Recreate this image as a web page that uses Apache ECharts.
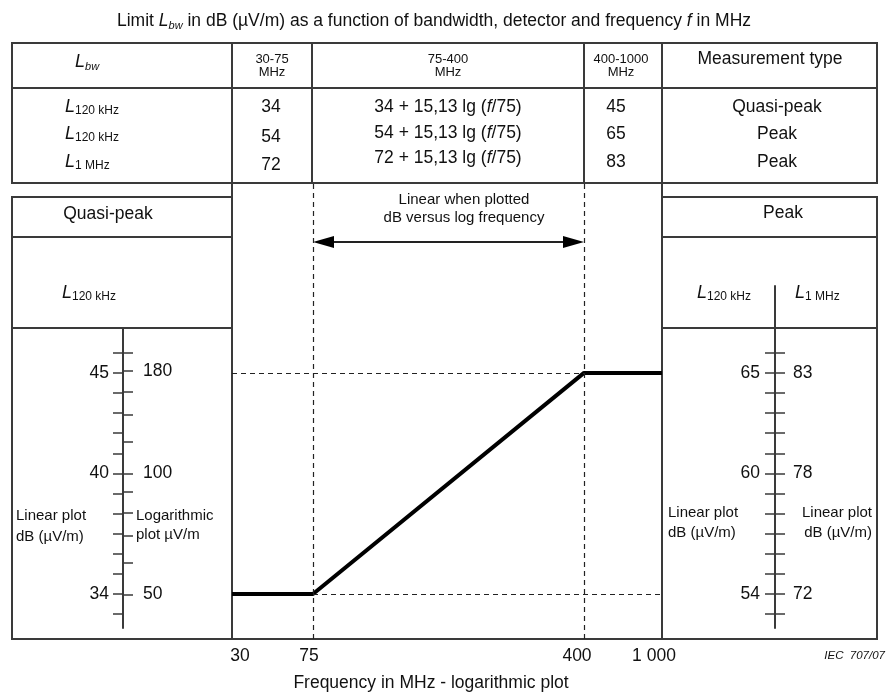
<!DOCTYPE html>
<html>
<head>
<meta charset="utf-8">
<script src="https://cdn.jsdelivr.net/npm/echarts@6/dist/echarts.min.js"></script>
<style>
    html, body { margin: 0; padding: 0; background: #fff; }
    #chart-container { width: 887px; height: 695px; }
</style>
</head>
<body>
<div id="chart-container"></div>
<script>
// limit line (quasi-peak, L120 kHz), dB(uV/m)
var limitFreq = [30, 75, 400, 1000];
var limitLevel = [34, 34, 45, 45];

// frequency axis ticks
var freqTicks = [30, 75, 400, 1000];
var freqTickLabels = ['30', '75', '400', '1 000'];

// table
var bandHeaders = ['30-75\nMHz', '75-400\nMHz', '400-1000\nMHz'];
var rowBandwidth = ['120 kHz', '120 kHz', '1 MHz'];
var lowBandLimit = [34, 54, 72];
var highBandLimit = [45, 65, 83];
var slopeText = '15,13';
var measurementType = ['Quasi-peak', 'Peak', 'Peak'];

// left scale (quasi-peak L120 kHz)
var qpDbTicks = [33, 34, 35, 36, 37, 38, 39, 40, 41, 42, 43, 44, 45, 46];
var qpDbLabels = [34, 40, 45];
var qpUvTicks = [50, 60, 70, 80, 90, 100, 120, 140, 160, 180, 200];
var qpUvLabels = [50, 100, 180];

// right scale (peak L120 kHz and L1 MHz)
var pkDbTicks = [53, 54, 55, 56, 57, 58, 59, 60, 61, 62, 63, 64, 65, 66];
var pkDbLabels = [54, 60, 65];
var pk1mTicks = [71, 72, 73, 74, 75, 76, 77, 78, 79, 80, 81, 82, 83, 84];
var pk1mLabels = [72, 78, 83];

// ---- layout ----
var FONT = '"Liberation Sans", Arial, Helvetica, sans-serif';
var INK = '#111';
var RULE = '#3a3a3a';
var Y_REF = 594;        // pixel row of 34 dB on all vertical scales
var PX_PER_DB = 20.1;
var FREQ_POS = [0, 81, 352, 430];   // drawn position of each frequency tick
var X_LABEL_NUDGE = [8, -4, -7, -8];

function dbRange(top, bottom, refDb) {
    return {
        min: refDb - (bottom - Y_REF) / PX_PER_DB,
        max: refDb + (Y_REF - top) / PX_PER_DB
    };
}

// piecewise log placement along the frequency axis
function fx(f) {
    for (var i = 0; i < freqTicks.length - 1; i++) {
        var f0 = freqTicks[i], f1 = freqTicks[i + 1];
        if (f <= f1 || i === freqTicks.length - 2) {
            var t = Math.log(f / f0) / Math.log(f1 / f0);
            return FREQ_POS[i] + t * (FREQ_POS[i + 1] - FREQ_POS[i]);
        }
    }
}

function uvToDb(v) { return 20 * Math.log10(v); }

var mainRange = dbRange(183, 639, 34);
var leftRange = dbRange(329, 628, 34);
var rightRange = dbRange(286, 628, 54);
var right1mRange = dbRange(286, 628, 72);

var rich = {
    L: { fontStyle: 'italic', fontSize: 18, lineHeight: 20, fontFamily: FONT, fill: INK },
    s: { fontSize: 12, lineHeight: 12, verticalAlign: 'bottom', fontFamily: FONT, fill: INK },
    si: { fontStyle: 'italic', fontSize: 11, lineHeight: 11, verticalAlign: 'bottom', fontFamily: FONT, fill: INK },
    i: { fontStyle: 'italic', fontFamily: FONT, fill: INK }
};

function txt(x, y, text, size, extra) {
    var style = {
        text: text, fontSize: size, fontFamily: FONT, fill: INK,
        align: 'center', verticalAlign: 'middle', lineHeight: size + 3, rich: rich
    };
    for (var k in extra) style[k] = extra[k];
    return { type: 'text', x: x, y: y, silent: true, z: 10, style: style };
}
function hline(x1, x2, y) {
    return { type: 'line', silent: true, shape: { x1: x1, y1: y, x2: x2, y2: y }, style: { stroke: RULE, lineWidth: 2 } };
}
function vline(x, y1, y2) {
    return { type: 'line', silent: true, shape: { x1: x, y1: y1, x2: x, y2: y2 }, style: { stroke: RULE, lineWidth: 2 } };
}
function box(x, y, w, h) {
    return { type: 'rect', silent: true, shape: { x: x, y: y, width: w, height: h }, style: { fill: 'none', stroke: RULE, lineWidth: 2 } };
}

var graphics = [];
// title
graphics.push(txt(434, 21, 'Limit {L|L}{si|bw} in dB (µV/m) as a function of bandwidth, detector and frequency {i|f} in MHz', 17.5,
    { rich: { L: { fontStyle: 'italic', fontSize: 17.5, lineHeight: 19, fontFamily: FONT, fill: INK },
              si: { fontStyle: 'italic', fontSize: 11, lineHeight: 11, verticalAlign: 'bottom', fontFamily: FONT, fill: INK },
              i: { fontStyle: 'italic', fontSize: 17.5, fontFamily: FONT, fill: INK } } }));

// table frame
graphics.push(box(12, 43, 865, 140));
graphics.push(hline(12, 877, 88));
[232, 312, 584, 662].forEach(function (x) { graphics.push(vline(x, 43, 183)); });

// header
graphics.push(txt(75, 62, '{L|L}{si|bw}', 18, { align: 'left' }));
var headerX = [272, 448, 621];
bandHeaders.forEach(function (h, i) { graphics.push(txt(headerX[i], 66, h, 13, { lineHeight: 13 })); });
graphics.push(txt(770, 59, 'Measurement type', 17.5));

// rows
var rowY = [107, 134, 162];
var lowBandY = [107, 137, 165];
var midBandY = [107, 133, 158];
rowBandwidth.forEach(function (bw, i) {
    graphics.push(txt(65, rowY[i], '{L|L}{s|' + bw + '}', 18, { align: 'left' }));
    graphics.push(txt(271, lowBandY[i], String(lowBandLimit[i]), 17.5));
    graphics.push(txt(448, midBandY[i], lowBandLimit[i] + ' + ' + slopeText + ' lg ({i|f}/75)', 17.5,
        { rich: { i: { fontStyle: 'italic', fontSize: 17.5, fontFamily: FONT, fill: INK } } }));
    graphics.push(txt(616, rowY[i], String(highBandLimit[i]), 17.5));
    graphics.push(txt(777, rowY[i], measurementType[i], 17.5));
});

// left panel
graphics.push(box(12, 197, 220, 442));
graphics.push(hline(12, 232, 237));
graphics.push(hline(12, 232, 328));
graphics.push(txt(108, 214, 'Quasi-peak', 17.5));
graphics.push(txt(62, 293, '{L|L}{s|120 kHz}', 18, { align: 'left' }));
graphics.push(txt(16, 526, 'Linear plot\ndB (µV/m)', 15, { align: 'left', lineHeight: 21 }));
graphics.push(txt(136, 525, 'Logarithmic\nplot µV/m', 15, { align: 'left', lineHeight: 19 }));

// right panel
graphics.push(box(662, 197, 215, 442));
graphics.push(hline(662, 877, 237));
graphics.push(hline(662, 877, 328));
graphics.push(txt(783, 213, 'Peak', 17.5));
graphics.push(txt(697, 293, '{L|L}{s|120 kHz}', 18, { align: 'left' }));
graphics.push(txt(795, 293, '{L|L}{s|1 MHz}', 18, { align: 'left' }));
graphics.push(txt(668, 523, 'Linear plot\ndB (µV/m)', 15, { align: 'left', lineHeight: 20 }));
graphics.push(txt(872, 523, 'Linear plot\ndB (µV/m)', 15, { align: 'right', lineHeight: 20 }));

// annotation text
graphics.push(txt(464, 209, 'Linear when plotted\ndB versus log frequency', 15, { lineHeight: 18 }));
// source tag
graphics.push(txt(885, 656, 'IEC  707/07', 11.5, { align: 'right', fontStyle: 'italic' }));

function tickAxis(grid, pos, range, ticks, labels, inside, margin, fmt) {
    return {
        type: 'value', gridIndex: grid, position: 'left',
        min: range.min, max: range.max,
        axisLine: { show: pos, lineStyle: { color: RULE, width: 2 } },
        axisTick: { show: true, inside: inside, length: 10, customValues: ticks, lineStyle: { color: RULE, width: 1.5 } },
        axisLabel: { show: true, inside: inside, margin: margin, customValues: labels, color: INK, fontSize: 17.5, fontFamily: FONT, formatter: fmt },
        splitLine: { show: false }
    };
}

var xLabelRich = {};
X_LABEL_NUDGE.forEach(function (d, i) {
    xLabelRich['n' + i] = {
        color: INK, fontSize: 17.5, fontFamily: FONT,
        padding: d >= 0 ? [0, 0, 0, 2 * d] : [0, -2 * d, 0, 0]
    };
});

var dom = document.getElementById('chart-container');
var myChart = echarts.init(dom, null, { renderer: 'canvas' });

var option = {
    backgroundColor: '#fff',
    animation: false,
    graphic: graphics,
    grid: [
        { left: 232, top: 183, width: 430, height: 456, outerBoundsMode: 'none' },
        { left: 123, top: 329, width: 1, height: 299, outerBoundsMode: 'none' },
        { left: 775, top: 286, width: 1, height: 342, outerBoundsMode: 'none' }
    ],
    xAxis: [
        {
            type: 'value', gridIndex: 0, min: FREQ_POS[0], max: FREQ_POS[FREQ_POS.length - 1],
            axisLine: { show: true, lineStyle: { color: RULE, width: 2 } },
            axisTick: { show: false },
            splitLine: { show: false },
            axisLabel: {
                customValues: freqTicks.map(fx), margin: 8, color: INK, fontSize: 17.5, fontFamily: FONT,
                rich: xLabelRich,
                formatter: function (v) {
                    for (var i = 0; i < freqTicks.length; i++) {
                        if (Math.abs(fx(freqTicks[i]) - v) < 1e-6) return '{n' + i + '|' + freqTickLabels[i] + '}';
                    }
                    return '';
                }
            },
            name: 'Frequency in MHz - logarithmic plot', nameLocation: 'middle', nameGap: 35,
            nameTextStyle: { color: INK, fontSize: 17.5, fontFamily: FONT, padding: [0, 32, 0, 0] }
        },
        { type: 'value', gridIndex: 1, show: false },
        { type: 'value', gridIndex: 2, show: false }
    ],
    yAxis: [
        {
            type: 'value', gridIndex: 0, position: 'left', min: mainRange.min, max: mainRange.max,
            axisLine: { show: true, lineStyle: { color: RULE, width: 2 } },
            axisTick: { show: false }, axisLabel: { show: false }, splitLine: { show: false }
        },
        {
            type: 'value', gridIndex: 0, position: 'right', min: mainRange.min, max: mainRange.max,
            axisLine: { show: true, lineStyle: { color: RULE, width: 2 } },
            axisTick: { show: false }, axisLabel: { show: false }, splitLine: { show: false }
        },
        tickAxis(1, true, leftRange, qpDbTicks, qpDbLabels, false, 14, function (v) { return String(Math.round(v)); }),
        tickAxis(1, false, leftRange, qpUvTicks.map(uvToDb), qpUvLabels.map(uvToDb), true, 20, function (v) {
            return String(Math.round(Math.pow(10, v / 20)));
        }),
        tickAxis(2, true, rightRange, pkDbTicks, pkDbLabels, false, 15, function (v) { return String(Math.round(v)); }),
        tickAxis(2, false, right1mRange, pk1mTicks, pk1mLabels, true, 18, function (v) { return String(Math.round(v)); })
    ],
    series: [
        {
            type: 'line',
            xAxisIndex: 0, yAxisIndex: 0,
            data: limitFreq.map(function (f, i) { return [fx(f), limitLevel[i]]; }),
            symbol: 'none', silent: true,
            lineStyle: { color: '#000', width: 4 },
            markLine: {
                silent: true, symbol: 'none', animation: false,
                label: { show: false },
                lineStyle: { color: '#222', width: 1.2, type: [5, 4] },
                data: [
                    { xAxis: fx(limitFreq[1]) },
                    { xAxis: fx(limitFreq[2]) },
                    [{ coord: [fx(limitFreq[0]), limitLevel[3]] }, { coord: [fx(limitFreq[2]), limitLevel[3]] }],
                    [{ coord: [fx(limitFreq[1]), limitLevel[0]] }, { coord: [fx(limitFreq[3]), limitLevel[0]] }]
                ]
            }
        }
    ]
};

myChart.setOption(option);

// double arrow between the band edges 75 and 400 MHz
var ARROW_Y = 242;
var ax1 = myChart.convertToPixel({ xAxisIndex: 0 }, fx(limitFreq[1]));
var ax2 = myChart.convertToPixel({ xAxisIndex: 0 }, fx(limitFreq[2]));
graphics.push({ type: 'line', silent: true, shape: { x1: ax1 + 15, y1: ARROW_Y, x2: ax2 - 15, y2: ARROW_Y }, style: { stroke: '#222', lineWidth: 2 } });
graphics.push({ type: 'polygon', silent: true, shape: { points: [[ax1, ARROW_Y], [ax1 + 21, ARROW_Y - 6], [ax1 + 21, ARROW_Y + 6]] }, style: { fill: '#000' } });
graphics.push({ type: 'polygon', silent: true, shape: { points: [[ax2, ARROW_Y], [ax2 - 21, ARROW_Y - 6], [ax2 - 21, ARROW_Y + 6]] }, style: { fill: '#000' } });
myChart.setOption({ graphic: graphics });

window.addEventListener('resize', myChart.resize);
</script>
</body>
</html>
